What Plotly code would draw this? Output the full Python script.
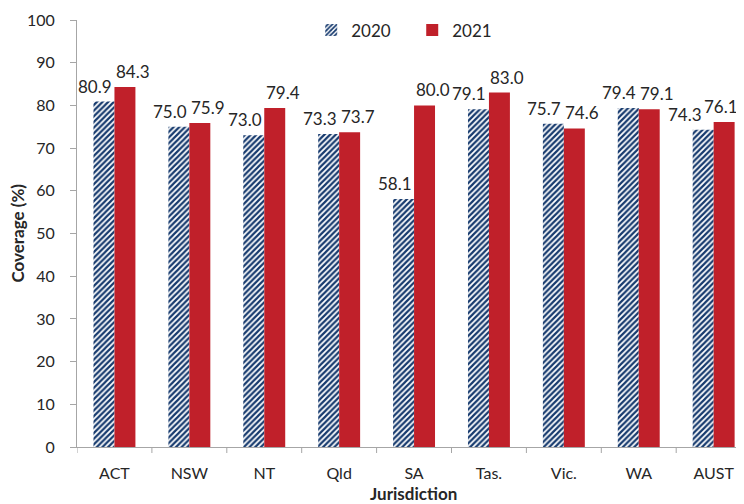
import plotly.graph_objects as go

categories = ["ACT", "NSW", "NT", "Qld", "SA", "Tas.", "Vic.", "WA", "AUST"]
values_2020 = [80.9, 75.0, 73.0, 73.3, 58.1, 79.1, 75.7, 79.4, 74.3]
values_2021 = [84.3, 75.9, 79.4, 73.7, 80.0, 83.0, 74.6, 79.1, 76.1]
y_ticks = [0, 10, 20, 30, 40, 50, 60, 70, 80, 90, 100]

FONT = "Lato, 'Open Sans', sans-serif"
TXT = "#262626"
AXC = "#A6A6A6"
NAVY = "#163A6E"
RED = "#C0202A"
BARGAP = 0.44
CAT_PX = 74.9
LABEL_HALF = 17  # approx half width of a value label in px

ML, MT, MB = 69, 12, 65          # page body adds 8px offset
PW, PH = 744 - ML, 504 - MT - MB  # plot area in px

fig = go.Figure()
fig.add_trace(go.Bar(
    x=categories, y=values_2020, name="2020",
    marker=dict(color="white", line=dict(width=0),
                pattern=dict(shape="/", fgcolor=NAVY, bgcolor="white",
                             size=4, solidity=0.55, fgopacity=1)),
))
fig.add_trace(go.Bar(
    x=categories, y=values_2021, name="2021",
    marker=dict(color=RED, line=dict(width=0)),
))

# value labels placed over each bar (slightly offset outward, as in the source)
half = (1 - BARGAP) / 4
annotations = []
for i, (a, b) in enumerate(zip(values_2020, values_2021)):
    c20 = 8 + ML + (i - half + 0.5) * CAT_PX
    c21 = 8 + ML + (i + half + 0.5) * CAT_PX
    # keep the 2021 label inside the visible window
    s21 = min(8, 738 - LABEL_HALF - c21)
    # keep the 2020 label clear of the 2021 label
    s20 = min(-9, (c21 + s21 - LABEL_HALF - 2) - LABEL_HALF - c20)
    annotations.append(dict(x=i - half, y=a, xref="x", yref="y", text=f"{a:.1f}",
                            showarrow=False, yanchor="bottom", xanchor="center",
                            xshift=s20, yshift=3,
                            font=dict(size=17, color=TXT, family=FONT)))
    annotations.append(dict(x=i + half, y=b, xref="x", yref="y", text=f"{b:.1f}",
                            showarrow=False, yanchor="bottom", xanchor="center",
                            xshift=s21, yshift=3,
                            font=dict(size=17, color=TXT, family=FONT)))

# axis titles
annotations.append(dict(x=-60 / PW, y=0.5, xref="paper", yref="paper", text="<b>Coverage (%)</b>",
                        showarrow=False, textangle=-90, xanchor="center", yanchor="middle",
                        font=dict(size=17, color=TXT, family=FONT)))
annotations.append(dict(x=0.499, y=-47 / PH, xref="paper", yref="paper",
                        text="<b>Jurisdiction</b>", showarrow=False,
                        xanchor="center", yanchor="middle",
                        font=dict(size=17, color=TXT, family=FONT)))

fig.update_layout(
    width=744, height=504,
    margin=dict(l=ML, r=0, t=MT, b=MB),
    plot_bgcolor="white", paper_bgcolor="white",
    barmode="group", bargap=BARGAP, bargroupgap=0.0,
    font=dict(family=FONT, size=15, color=TXT),
    showlegend=True,
    legend=dict(orientation="h", x=0.347, xanchor="left", y=(439 - 22.5) / PH,
                yanchor="middle", font=dict(size=17, color=TXT, family=FONT),
                itemwidth=30, traceorder="normal", bgcolor="rgba(0,0,0,0)",
                entrywidth=56),
    annotations=annotations,
    xaxis=dict(
        range=[-0.5, -0.5 + PW / CAT_PX], showline=True, linecolor=AXC, linewidth=1,
        ticks="", showgrid=False, tickfont=dict(size=16, color=TXT),
        automargin=False, ticklabelstandoff=12,
    ),
    yaxis=dict(
        range=[0, 100], tickvals=y_ticks, showline=True, linecolor=AXC, linewidth=1,
        ticks="outside", ticklen=6, tickcolor=AXC, showgrid=False,
        tickfont=dict(size=16, color=TXT), automargin=False, ticklabelstandoff=12,
    ),
)

# category separator ticks below the x axis
for i in range(len(categories)):
    fig.add_shape(type="line", xref="x", yref="paper", x0=i - 0.5, x1=i - 0.5,
                  y0=0, y1=-6 / PH, line=dict(color=AXC, width=1))

fig.write_html("out.html")
